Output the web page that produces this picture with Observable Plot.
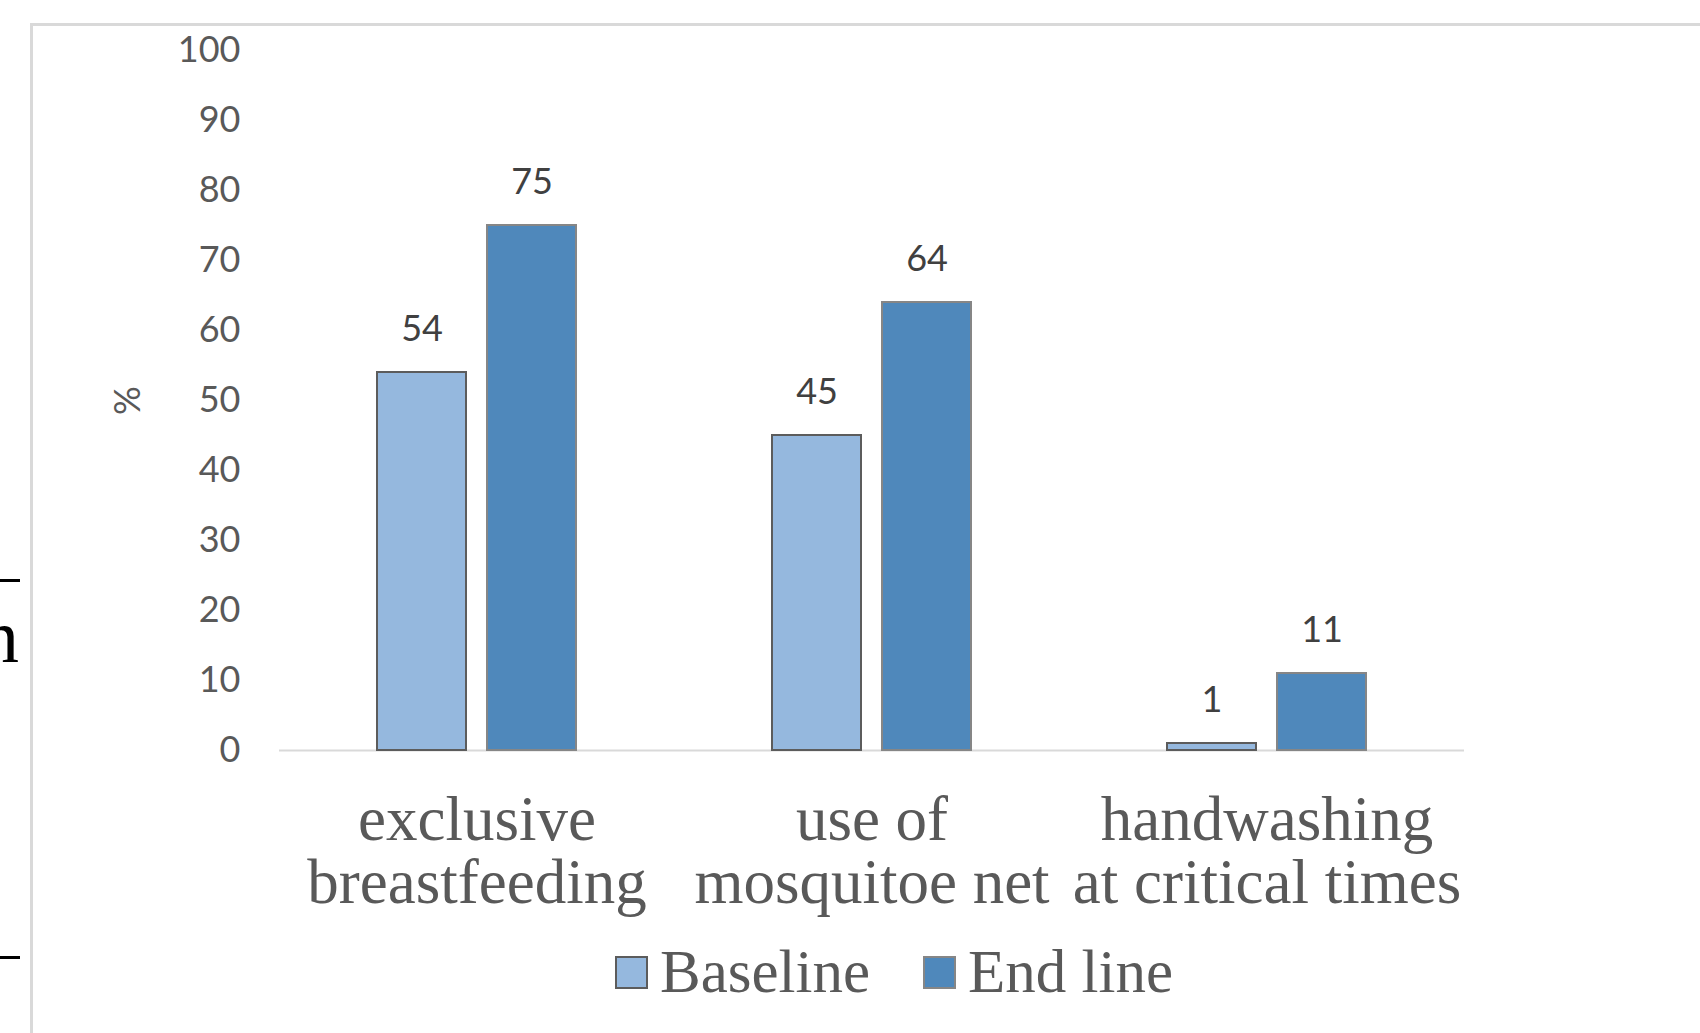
<!DOCTYPE html>
<html>
<head>
<meta charset="utf-8">
<script src="https://cdn.jsdelivr.net/npm/d3@7"></script>
<script src="https://cdn.jsdelivr.net/npm/@observablehq/plot@0.6"></script>
<style>
  html, body { margin: 0; padding: 0; background: #fff; width: 1700px; height: 1033px; overflow: hidden; }
  #frame { position: absolute; left: 30px; top: 23px; width: 1800px; height: 1200px; border: 3px solid #d9d9d9; box-sizing: border-box; }
  #chart { position: absolute; left: 0; top: 0; }
  #legend { position: absolute; left: 615px; top: 942px; display: flex; align-items: center; font-family: "Liberation Serif", serif; font-size: 61px; line-height: 60px; color: #595959; white-space: nowrap; }
  #legend .sw { width: 29px; height: 29px; border: 2px solid #7a7a7a; box-sizing: content-box; margin-right: 12px; }
  #legend .item { display: flex; align-items: center; margin-right: 53px; }
  .edge { position: absolute; left: 0; }
  .dash { width: 20px; height: 3px; background: #000; }
  #edge-clip { position: absolute; left: 0; top: 590px; width: 21px; height: 90px; overflow: hidden; }
  #edge-n { position: absolute; left: -19px; top: 8px; font-family: "Liberation Serif", serif; font-size: 76px; line-height: 76px; color: #000; }
</style>
</head>
<body>
<div id="frame"></div>
<div class="edge dash" style="top:579px"></div>
<div id="edge-clip"><div id="edge-n">n</div></div>
<div class="edge dash" style="top:956px"></div>
<div id="chart"></div>
<div id="legend"></div>
<script>
const categories = ["exclusive breastfeeding", "use of mosquitoe net", "handwashing at critical times"];
const categoryLabels = ["exclusive\nbreastfeeding", "use of\nmosquitoe net", "handwashing\nat critical times"];
const series = ["Baseline", "End line"];
const baselineValues = [54, 45, 1];
const endlineValues = [75, 64, 11];
const yTicks = [0, 10, 20, 30, 40, 50, 60, 70, 80, 90, 100];
const fillColors = ["#95b8de", "#4f88bb"];
const strokeColors = ["#5c5c5c", "#868686"];

const data = categories.flatMap((c, i) => [
  {category: c, series: series[0], value: baselineValues[i]},
  {category: c, series: series[1], value: endlineValues[i]}
]);

const chart = Plot.plot({
  width: 1700,
  height: 930,
  marginLeft: 279,
  marginRight: 236,
  marginTop: 50,
  marginBottom: 180,
  style: {background: "transparent", fontFamily: "Lato, sans-serif"},
  fx: {domain: categories, padding: 0, label: null},
  x: {domain: series, paddingInner: 0.189, paddingOuter: 0.874, axis: null},
  y: {domain: [0, 100], label: "%"},
  marks: [
    Plot.ruleY([0], {stroke: "#d9d9d9", strokeWidth: 2}),
    ...series.map((s, k) => Plot.barY(data, {
      filter: d => d.series === s,
      fx: "category", x: "series", y: "value",
      fill: fillColors[k], stroke: strokeColors[k], strokeWidth: 2
    })),
    Plot.text(data, {
      fx: "category", x: "series", y: "value",
      text: d => String(d.value),
      dy: -43, fontSize: 36, fill: "#404040", fontFamily: "Lato, sans-serif"
    }),
    Plot.axisY({
      ticks: yTicks, tickSize: 0, tickPadding: 39, fontSize: 36, color: "#595959",
      label: "%", labelAnchor: "center", labelArrow: false, labelOffset: 165
    }),
    Plot.axisFx({
      anchor: "bottom", tickSize: 0, tickPadding: 45, fontSize: 63,
      fontFamily: "Liberation Serif, serif", lineHeight: 1.0, color: "#595959", label: null,
      tickFormat: c => categoryLabels[categories.indexOf(c)]
    })
  ]
});
document.getElementById("chart").appendChild(chart);

const legend = document.getElementById("legend");
series.forEach((s, k) => {
  const item = document.createElement("div");
  item.className = "item";
  const sw = document.createElement("div");
  sw.className = "sw";
  sw.style.background = fillColors[k];
  sw.style.borderColor = strokeColors[k];
  const label = document.createElement("span");
  label.textContent = s;
  item.appendChild(sw);
  item.appendChild(label);
  legend.appendChild(item);
});
</script>
</body>
</html>
